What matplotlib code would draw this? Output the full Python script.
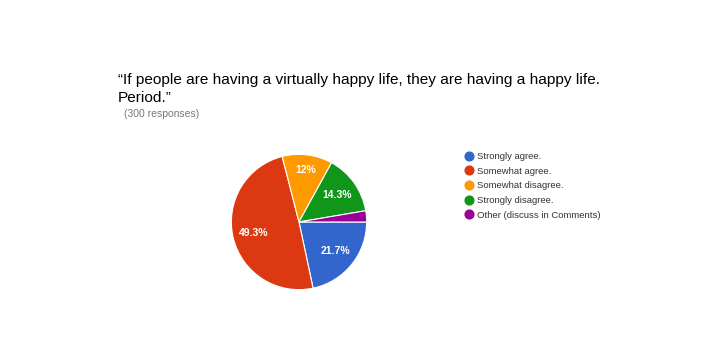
import matplotlib
matplotlib.use("Agg")
import matplotlib.pyplot as plt
from matplotlib.lines import Line2D

plt.rcParams['font.family'] = ['Liberation Sans', 'DejaVu Sans']

categories = ["Strongly agree.", "Somewhat agree.", "Somewhat disagree.",
              "Strongly disagree.", "Other (discuss in Comments)"]
counts = [65, 148, 36, 43, 8]
colors = ["#3366CC", "#DC3912", "#FF9900", "#109618", "#990099"]
title = "\u201cIf people are having a virtually happy life, they are having a happy life.\nPeriod.\u201d"
subtitle = "(300 responses)"

W, H = 720, 360
fig = plt.figure(figsize=(7.2, 3.6), dpi=100)

cx, cy, r = 299, 222, 69
ax = fig.add_axes([(cx - r) / W, (H - cy - r) / H, 2 * r / W, 2 * r / H])

def fmt(p):
    if p < 5:
        return ""
    return f"{round(p, 1):g}%"

wedges, texts, autotexts = ax.pie(
    counts, colors=colors, startangle=0, counterclock=False,
    autopct=fmt, pctdistance=0.69, radius=1,
    wedgeprops=dict(edgecolor="white", linewidth=0.8),
    textprops=dict(color="white", fontsize=7.5, fontweight="bold"))
# small slice label sits a little further out
x, y = autotexts[2].get_position()
autotexts[2].set_position((x * 1.12, y * 1.12))
ax.set_xlim(-1.02, 1.02)
ax.set_ylim(-1.02, 1.02)
ax.set_aspect("equal")

fig.text(118 / W, 1 - 73 / H, title, fontsize=11.1, va="top", ha="left",
         color="#000000", linespacing=1.38)
fig.text(124 / W, 1 - 109 / H, subtitle, fontsize=7.5, va="top", ha="left",
         color="#777777")

handles = [Line2D([0], [0], marker="o", linestyle="none", markersize=6.3,
                  markerfacecolor=c, markeredgecolor=c) for c in colors]
fig.legend(handles, categories, loc="upper left",
           bbox_to_anchor=(464 / W, 1 - 152 / H), frameon=False,
           fontsize=6.8, handlelength=1.0, handletextpad=0.4,
           labelspacing=0.6, borderaxespad=0, borderpad=0,
           labelcolor="#333333")

fig.savefig("out.png", dpi=100, facecolor="white")
